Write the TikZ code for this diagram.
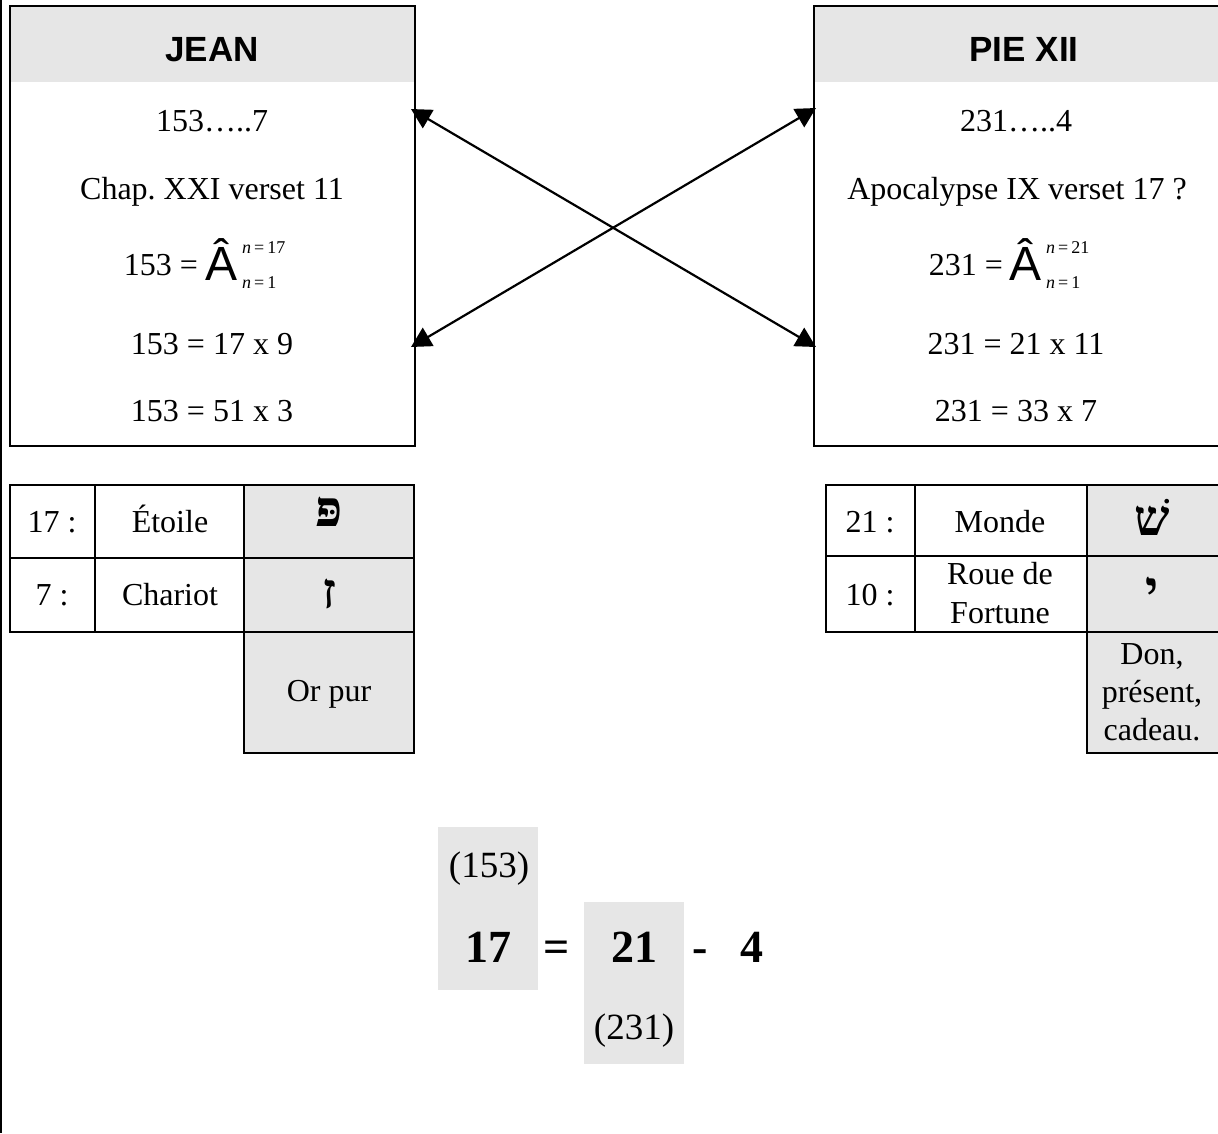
\documentclass[tikz,border=0pt]{standalone}
\usepackage{fontspec}
\setmainfont{Liberation Serif}
\newfontfamily\headfont{Liberation Sans}
\newfontfamily\hebfont[Script=Hebrew]{Liberation Serif}
\TeXXeTstate=1
\usetikzlibrary{arrows.meta}
\definecolor{cellgray}{RGB}{230,230,230}

\begin{document}
\frenchspacing
\begin{tikzpicture}[x=1pt,y=-1pt,
  frame/.style={line width=2pt},
  cell/.style={line width=2pt},
  shade/.style={fill=cellgray},
  txt/.style={font=\fontsize{32}{40}\selectfont, inner sep=0pt, anchor=base},
  head/.style={font=\headfont\bfseries\fontsize{35}{40}\selectfont, inner sep=0pt, anchor=base},
  heb/.style={font=\hebfont\bfseries\fontsize{50}{50}\selectfont, inner sep=0pt, anchor=base},
  big/.style={font=\bfseries\fontsize{46}{46}\selectfont, inner sep=0pt, anchor=base},
  paren/.style={font=\fontsize{37}{40}\selectfont, inner sep=0pt, anchor=base},
  sumA/.style={font=\headfont\fontsize{48}{48}\selectfont, inner sep=0pt, anchor=base west},
  lim/.style={font=\fontsize{18}{18}\selectfont, inner sep=0pt, anchor=base west},
  link/.style={line width=2.2pt, {Triangle[length=20pt,width=21pt]}-{Triangle[length=20pt,width=21pt]}}
]
\useasboundingbox (0,0) rectangle (1218,1133);
\clip (0,0) rectangle (1218,1133);

% page rule on the left
\draw[line width=2pt] (1,0) -- (1,1133);

% ---------- JEAN ----------
\fill[shade] (10,6) rectangle (415,82);
\draw[frame] (10,6) rectangle (415,446);
\node[head] (jean) at (212,61) {JEAN};
\node[txt] (j1) at (212,131) {153…..7};
\node[txt] (j2) at (212,199) {Chap. XXI verset 11};
\node[txt, anchor=base east] (j3) at (198,275) {153 =};
\node[sumA] (j3a) at (205,280) {Â};
\node[lim] (j3sup) at (242,253) {\itshape n\upshape\,=\,17};
\node[lim] (j3sub) at (242,288) {\itshape n\upshape\,=\,1};
\node[txt] (j4) at (212,354) {153 = 17 x 9};
\node[txt] (j5) at (212,421) {153 = 51 x 3};

% ---------- PIE XII ----------
\fill[shade] (814,6) rectangle (1230,82);
\draw[frame] (814,6) rectangle (1230,446);
\node[head] (pie) at (1024,61) {PIE XII};
\node[txt] (p1) at (1016,131) {231…..4};
\node[txt] (p2) at (1017,199) {Apocalypse IX verset 17 ?};
\node[txt, anchor=base east] (p3) at (1003,275) {231 =};
\node[sumA] (p3a) at (1009,280) {Â};
\node[lim] (p3sup) at (1046,253) {\itshape n\upshape\,=\,21};
\node[lim] (p3sub) at (1046,288) {\itshape n\upshape\,=\,1};
\node[txt] (p4) at (1016,354) {231 = 21 x 11};
\node[txt] (p5) at (1016,421) {231 = 33 x 7};

% crossing links
\coordinate (jTop) at (411,109);
\coordinate (jBot) at (411,347);
\coordinate (pTop) at (816,108);
\coordinate (pBot) at (816,347);
\draw[link] (jTop) -- (pBot);
\draw[link] (jBot) -- (pTop);

% ---------- left table ----------
\fill[shade] (244,485) rectangle (414,753);
\draw[cell] (10,485) rectangle (414,632);
\draw[cell] (10,558) -- (414,558);
\draw[cell] (95,485) -- (95,632);
\draw[cell] (244,485) -- (244,753) -- (414,753) -- (414,632);
\node[txt] (l11) at (52,532) {17 :};
\node[txt] (l12) at (170,532) {Étoile};
\node[heb] (l13) at (329,526) {\beginR פּ\endR};
\node[txt] (l21) at (52,605) {7 :};
\node[txt] (l22) at (170,605) {Chariot};
\node[heb] (l23) at (329,608) {\beginR ז\endR};
\node[txt] (l33) at (329,701) {Or pur};

% ---------- right table ----------
\fill[shade] (1087,485) rectangle (1230,753);
\draw[cell] (826,485) rectangle (1230,632);
\draw[cell] (826,556) -- (1230,556);
\draw[cell] (915,485) -- (915,632);
\draw[cell] (1087,485) -- (1087,753) -- (1230,753);
\node[txt] (r11) at (870,532) {21 :};
\node[txt] (r12) at (1000,532) {Monde};
\node[heb] (r13) at (1152,535) {\beginR שׁ\endR};
\node[txt] (r21) at (870,605) {10 :};
\node[txt, align=center, anchor=center] (r22) at (1000,593) {Roue de\\[-1pt]Fortune};
\node[heb] (r23) at (1152,606) {\beginR י\endR};
\node[txt, align=center, anchor=center] (r33) at (1152,692) {Don,\\[-2pt]présent,\\[-2pt]cadeau.};

% ---------- bottom relation ----------
\fill[shade] (438,827) rectangle (538,990);
\fill[shade] (584,902) rectangle (684,1064);
\node[paren] (n153) at (489,877) {(153)};
\node[big] (n17) at (488,962) {17};
\node[big] (eq) at (557,962) {=};
\node[big] (n21) at (634,962) {21};
\node[paren] (n231) at (634,1039) {(231)};
\node[big] (minus) at (700,962) {-};
\node[big] (n4) at (752,962) {4};
\end{tikzpicture}
\end{document}
